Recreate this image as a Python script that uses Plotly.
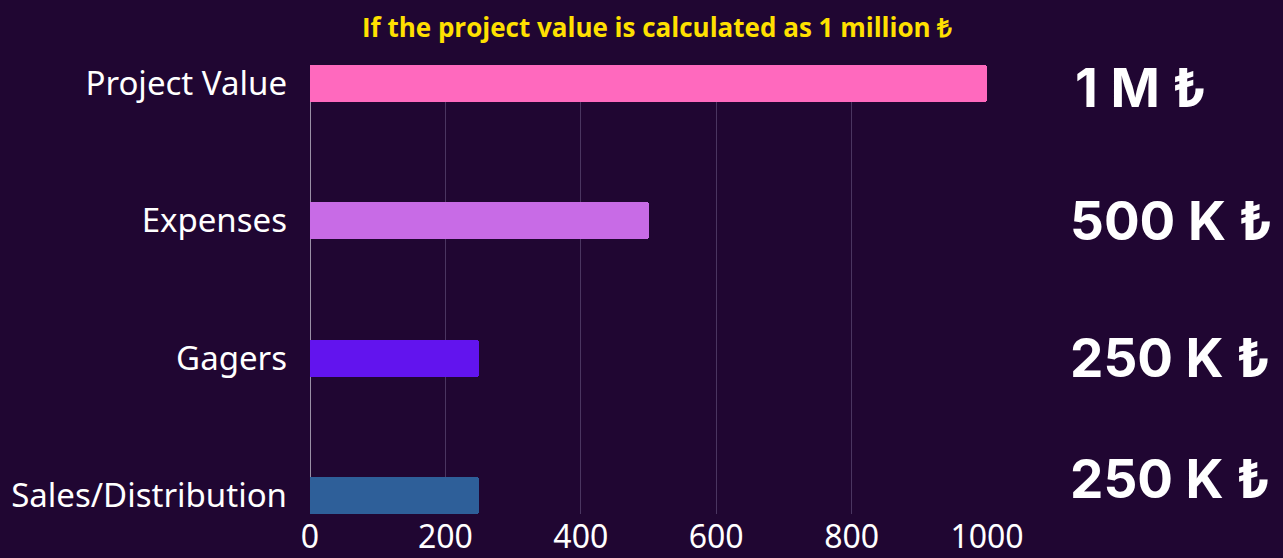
import plotly.graph_objects as go

categories = ["Project Value", "Expenses", "Gagers", "Sales/Distribution"]
values = [1000, 500, 250, 250]
value_labels = ["1 M ₺", "500 K ₺", "250 K ₺", "250 K ₺"]
bar_colors = ["#FF69BE", "#C86BE6", "#6214EE", "#2E5F99"]
x_ticks = [0, 200, 400, 600, 800, 1000]
title_text = "If the project value is calculated as 1 million ₺"

BG = "#200632"
L, R, T, B = 310, 296, 65, 44
W, H = 1283, 558
PW = W - L - R

fig = go.Figure()
fig.add_trace(go.Bar(
    y=categories,
    x=values,
    orientation="h",
    marker=dict(color=bar_colors, line=dict(width=0), cornerradius=3),
    width=0.27,
    hoverinfo="skip",
))

label_shift = [-4, 0, 0, 16]
label_x = [1073, 1068, 1068, 1068]
for i, (cat, lab) in enumerate(zip(categories, value_labels)):
    fig.add_annotation(
        x=(label_x[i] - L) / PW, xref="paper", xanchor="left",
        y=cat, yref="y", yshift=label_shift[i],
        text=f"<b>{lab}</b>", showarrow=False,
        font=dict(family="Inter", size=53, color="#FFFFFF"),
    )

fig.add_annotation(
    x=(657 - L) / PW, xref="paper", xanchor="center",
    y=1, yref="paper", yanchor="middle", yshift=T - 27,
    text=f"<b>{title_text}</b>", showarrow=False,
    font=dict(family="Open Sans", size=26, color="#FFE000"),
)

fig.update_layout(
    width=W, height=H,
    paper_bgcolor=BG, plot_bgcolor=BG,
    margin=dict(l=L, r=R, t=T, b=B, autoexpand=False),
    showlegend=False,
    bargap=0,
    xaxis=dict(
        range=[0, 1000], tickvals=x_ticks,
        showgrid=True, gridcolor="#4A3560", gridwidth=1,
        zeroline=True, zerolinecolor="#9A90A6", zerolinewidth=1,
        showline=False, ticks="",
        ticklabelstandoff=1, automargin=False,
        tickfont=dict(family="Noto Sans", size=32, color="#FFFFFF"),
        fixedrange=True,
    ),
    yaxis=dict(
        range=[3.135, -0.135],
        showgrid=False, zeroline=False, showline=False, ticks="",
        ticklabelstandoff=22, automargin=False,
        tickfont=dict(family="Noto Sans", size=33, color="#FFFFFF"),
        fixedrange=True,
    ),
)

fig.write_html(
    "out.html",
    config={"displayModeBar": False},
    post_script="document.body.style.margin='0';document.body.style.overflow='hidden';",
)
